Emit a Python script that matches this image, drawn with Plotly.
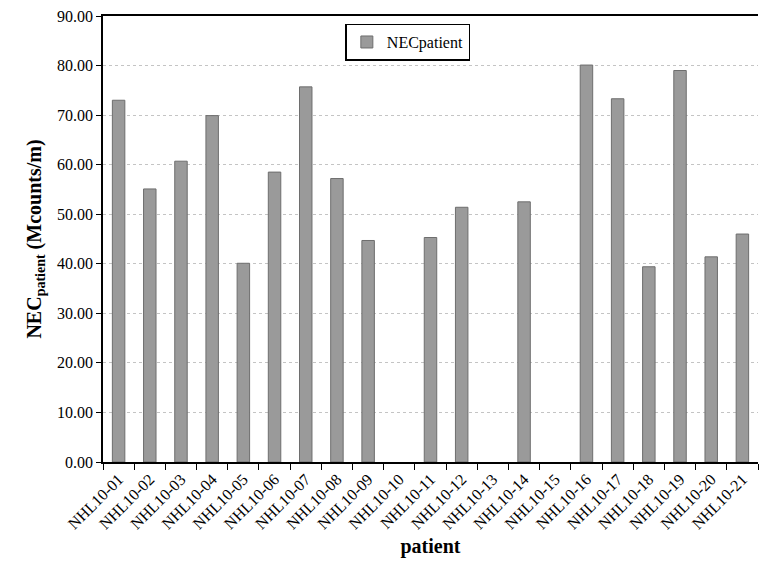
import plotly.graph_objects as go

patients = [f"NHL10-{i:02d}" for i in range(1, 22)]
nec_values = [73.0, 55.1, 60.7, 69.9, 40.1, 58.5, 75.7, 57.2, 44.7, None,
              45.3, 51.4, None, 52.5, None, 80.1, 73.3, 39.4, 79.0, 41.4, 46.0]
y_ticks = [0, 10, 20, 30, 40, 50, 60, 70, 80, 90]

font_family = "Liberation Serif"

fig = go.Figure()
fig.add_trace(go.Bar(
    x=patients, y=nec_values, name="NECpatient",
    marker=dict(color="#9a9a9a", line=dict(color="#6e6e6e", width=1)),
    width=0.4,
))

fig.update_layout(
    width=765, height=569,
    margin=dict(l=103, r=7, t=16, b=107),
    paper_bgcolor="white", plot_bgcolor="white",
    font=dict(family=font_family, color="black", size=15),
    showlegend=True,
    legend=dict(x=0.37, y=0.983, xanchor="left", yanchor="top",
                bordercolor="black", borderwidth=1.5,
                font=dict(size=16, family=font_family),
                bgcolor="white", itemwidth=30,
                tracegroupgap=0),
    bargap=0.6,
)

fig.update_xaxes(
    type="category",
    tickangle=-45,
    ticks="outside", tickson="boundaries", ticklen=6, tickcolor="black",
    showline=True, linecolor="black", linewidth=1.5, mirror=True,
    showgrid=False,
    tickfont=dict(size=16, family=font_family),
    title=dict(text="<b>patient</b>", font=dict(size=20, family=font_family), standoff=8),
)

fig.update_yaxes(
    range=[0, 90],
    tickvals=y_ticks, tickformat=".2f",
    ticks="outside", ticklen=5, tickcolor="black",
    showline=True, linecolor="black", linewidth=1.5,
    showgrid=True, gridcolor="#c4c4c4", griddash="dot", gridwidth=1,
    zeroline=False, ticklabeloverflow="allow",
    tickfont=dict(size=16, family=font_family),
    title=dict(text="<b>NEC<sub>patient</sub> (Mcounts/m)</b>",
               font=dict(size=20, family=font_family), standoff=10),
)

fig.write_html("out.html", config={"displayModeBar": False},
               post_script="document.body.style.margin='0';")
